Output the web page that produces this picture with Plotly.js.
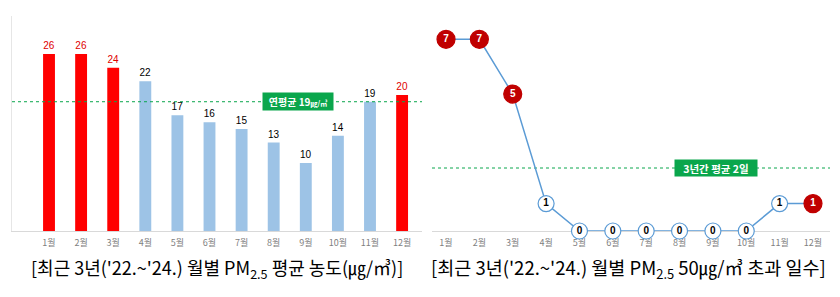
<!DOCTYPE html>
<html>
<head>
<meta charset="utf-8">
<script src="https://cdn.plot.ly/plotly-3.0.1.min.js"></script>
<style>
html,body{margin:0;padding:0;background:#fff;}
#chart{width:840px;height:297px;}
</style>
</head>
<body>
<div id="chart"></div>
<script>
// ---- data ----
const months = ['1월','2월','3월','4월','5월','6월','7월','8월','9월','10월','11월','12월'];
const avgConcentration = [26, 26, 24, 22, 17, 16, 15, 13, 10, 14, 19, 20];   // ㎍/㎥
const exceedDays = [7, 7, 5, 1, 0, 0, 0, 0, 0, 0, 1, 1];                     // days > 50㎍/㎥
const highlightMonth = [1, 1, 1, 0, 0, 0, 0, 0, 0, 0, 0, 1];                 // 1 = emphasised (red)
const annualAvgConc = 19;
const annualAvgConcLabel = '연평균 19<span style="font-size:7px">㎍/㎥</span>';
const avgDaysLine = 2.3;
const avgDaysLabel = '3년간 평균 2일';
const captionLeft = '[최근 3년(\'22.~\'24.) 월별 PM<sub>2.5</sub> 평균 농도(㎍/㎥)]';
const captionRight = '[최근 3년(\'22.~\'24.) 월별 PM<sub>2.5</sub> 50㎍/㎥ 초과 일수]';

// ---- styles ----
const RED = '#ff0000', BLUE = '#9dc3e6', DARKRED = '#c00000', LINEBLUE = '#5b9bd5', GREEN = '#0aa64c';
const KR = '"Noto Sans CJK KR", "Noto Sans", sans-serif';
const NUM = '"Liberation Sans", Arial, sans-serif';

const barColors = highlightMonth.map(h => h ? RED : BLUE);
const barTextColors = highlightMonth.map(h => h ? '#e00000' : '#000000');

const bars = {
  type: 'bar', x: months, y: avgConcentration, xaxis: 'x', yaxis: 'y',
  marker: {color: barColors}, width: 0.37,
  text: avgConcentration.map(String), textposition: 'outside', cliponaxis: false,
  textfont: {family: NUM, size: 10, color: barTextColors},
  hoverinfo: 'skip'
};

const dotColors = highlightMonth.map(h => h ? DARKRED : '#ffffff');
const dotSizes = highlightMonth.map(h => h ? 18 : 16);
const dotTextColors = highlightMonth.map(h => h ? '#ffffff' : '#000000');
const line = {
  type: 'scatter', mode: 'lines+markers+text', x: months, y: exceedDays, xaxis: 'x2', yaxis: 'y2',
  line: {color: LINEBLUE, width: 1.5},
  marker: {color: dotColors, size: dotSizes, opacity: 1,
    line: {color: highlightMonth.map(h => h ? DARKRED : LINEBLUE), width: 1.2}},
  text: exceedDays.map(String), textposition: 'middle center', cliponaxis: false,
  textfont: {family: NUM, size: 10, color: dotTextColors, weight: 'bold'},
  hoverinfo: 'skip'
};

const W = 840, H = 297;
const yBottom = (H - 231) / H, yTop = (H - 16) / H;

const layout = {
  width: W, height: H, margin: {l: 0, r: 0, t: 0, b: 0},
  paper_bgcolor: '#ffffff', plot_bgcolor: 'rgba(0,0,0,0)', showlegend: false,
  xaxis: {domain: [12 / W, 422 / W], range: [-1.153, 11.62], type: 'category',
    showgrid: false, zeroline: false, showline: true, linecolor: '#d9d9d9', linewidth: 1,
    ticks: 'outside', ticklen: 3, tickcolor: 'rgba(0,0,0,0)', layer: 'below traces',
    tickfont: {family: KR, size: 9, color: '#7f7f7f'}},
  yaxis: {domain: [yBottom, yTop], range: [0, 31.6], showgrid: false, zeroline: false,
    showline: true, linecolor: '#e6e6e6', linewidth: 1, showticklabels: false, ticks: '', layer: 'below traces'},
  xaxis2: {domain: [432 / W, 830 / W], range: [-0.42, 11.51], type: 'category',
    showgrid: false, zeroline: false, showline: true, linecolor: '#d9d9d9', linewidth: 1,
    ticks: 'outside', ticklen: 3, tickcolor: 'rgba(0,0,0,0)', layer: 'below traces',
    tickfont: {family: KR, size: 9, color: '#7f7f7f'}, anchor: 'y2'},
  yaxis2: {domain: [yBottom, yTop], range: [0, 7.85], showgrid: false, zeroline: false,
    showline: false, showticklabels: false, ticks: '', anchor: 'x2'},
  shapes: [
    {type: 'line', xref: 'x domain', yref: 'y', x0: 0, x1: 1, y0: annualAvgConc, y1: annualAvgConc,
      line: {color: GREEN, width: 1, dash: 'dot'}, layer: 'above'},
    {type: 'line', xref: 'x2 domain', yref: 'y2', x0: 0, x1: 1, y0: avgDaysLine, y1: avgDaysLine,
      line: {color: GREEN, width: 1, dash: 'dot'}, layer: 'below'}
  ],
  annotations: [
    {xref: 'paper', yref: 'y', x: 298 / W, y: annualAvgConc, text: annualAvgConcLabel, showarrow: false,
      xanchor: 'center', bgcolor: GREEN, width: 66, height: 13, borderpad: 2,
      font: {family: KR, size: 10, color: '#ffffff', weight: 'bold'}},
    {xref: 'paper', yref: 'y2', x: 716 / W, y: avgDaysLine, text: avgDaysLabel, showarrow: false,
      xanchor: 'center', bgcolor: GREEN, width: 78, height: 12, borderpad: 2,
      font: {family: KR, size: 10.5, color: '#ffffff', weight: 'bold'}},
    {xref: 'paper', yref: 'paper', x: 217 / W, y: (H - 268) / H, text: captionLeft, showarrow: false,
      xanchor: 'center', yanchor: 'middle', font: {family: KR, size: 18, color: '#000000'}},
    {xref: 'paper', yref: 'paper', x: 628 / W, y: (H - 268) / H, text: captionRight, showarrow: false,
      xanchor: 'center', yanchor: 'middle', font: {family: KR, size: 18.5, color: '#000000'}}
  ]
};

Plotly.newPlot('chart', [bars, line], layout, {staticPlot: true, displayModeBar: false});
</script>
</body>
</html>
